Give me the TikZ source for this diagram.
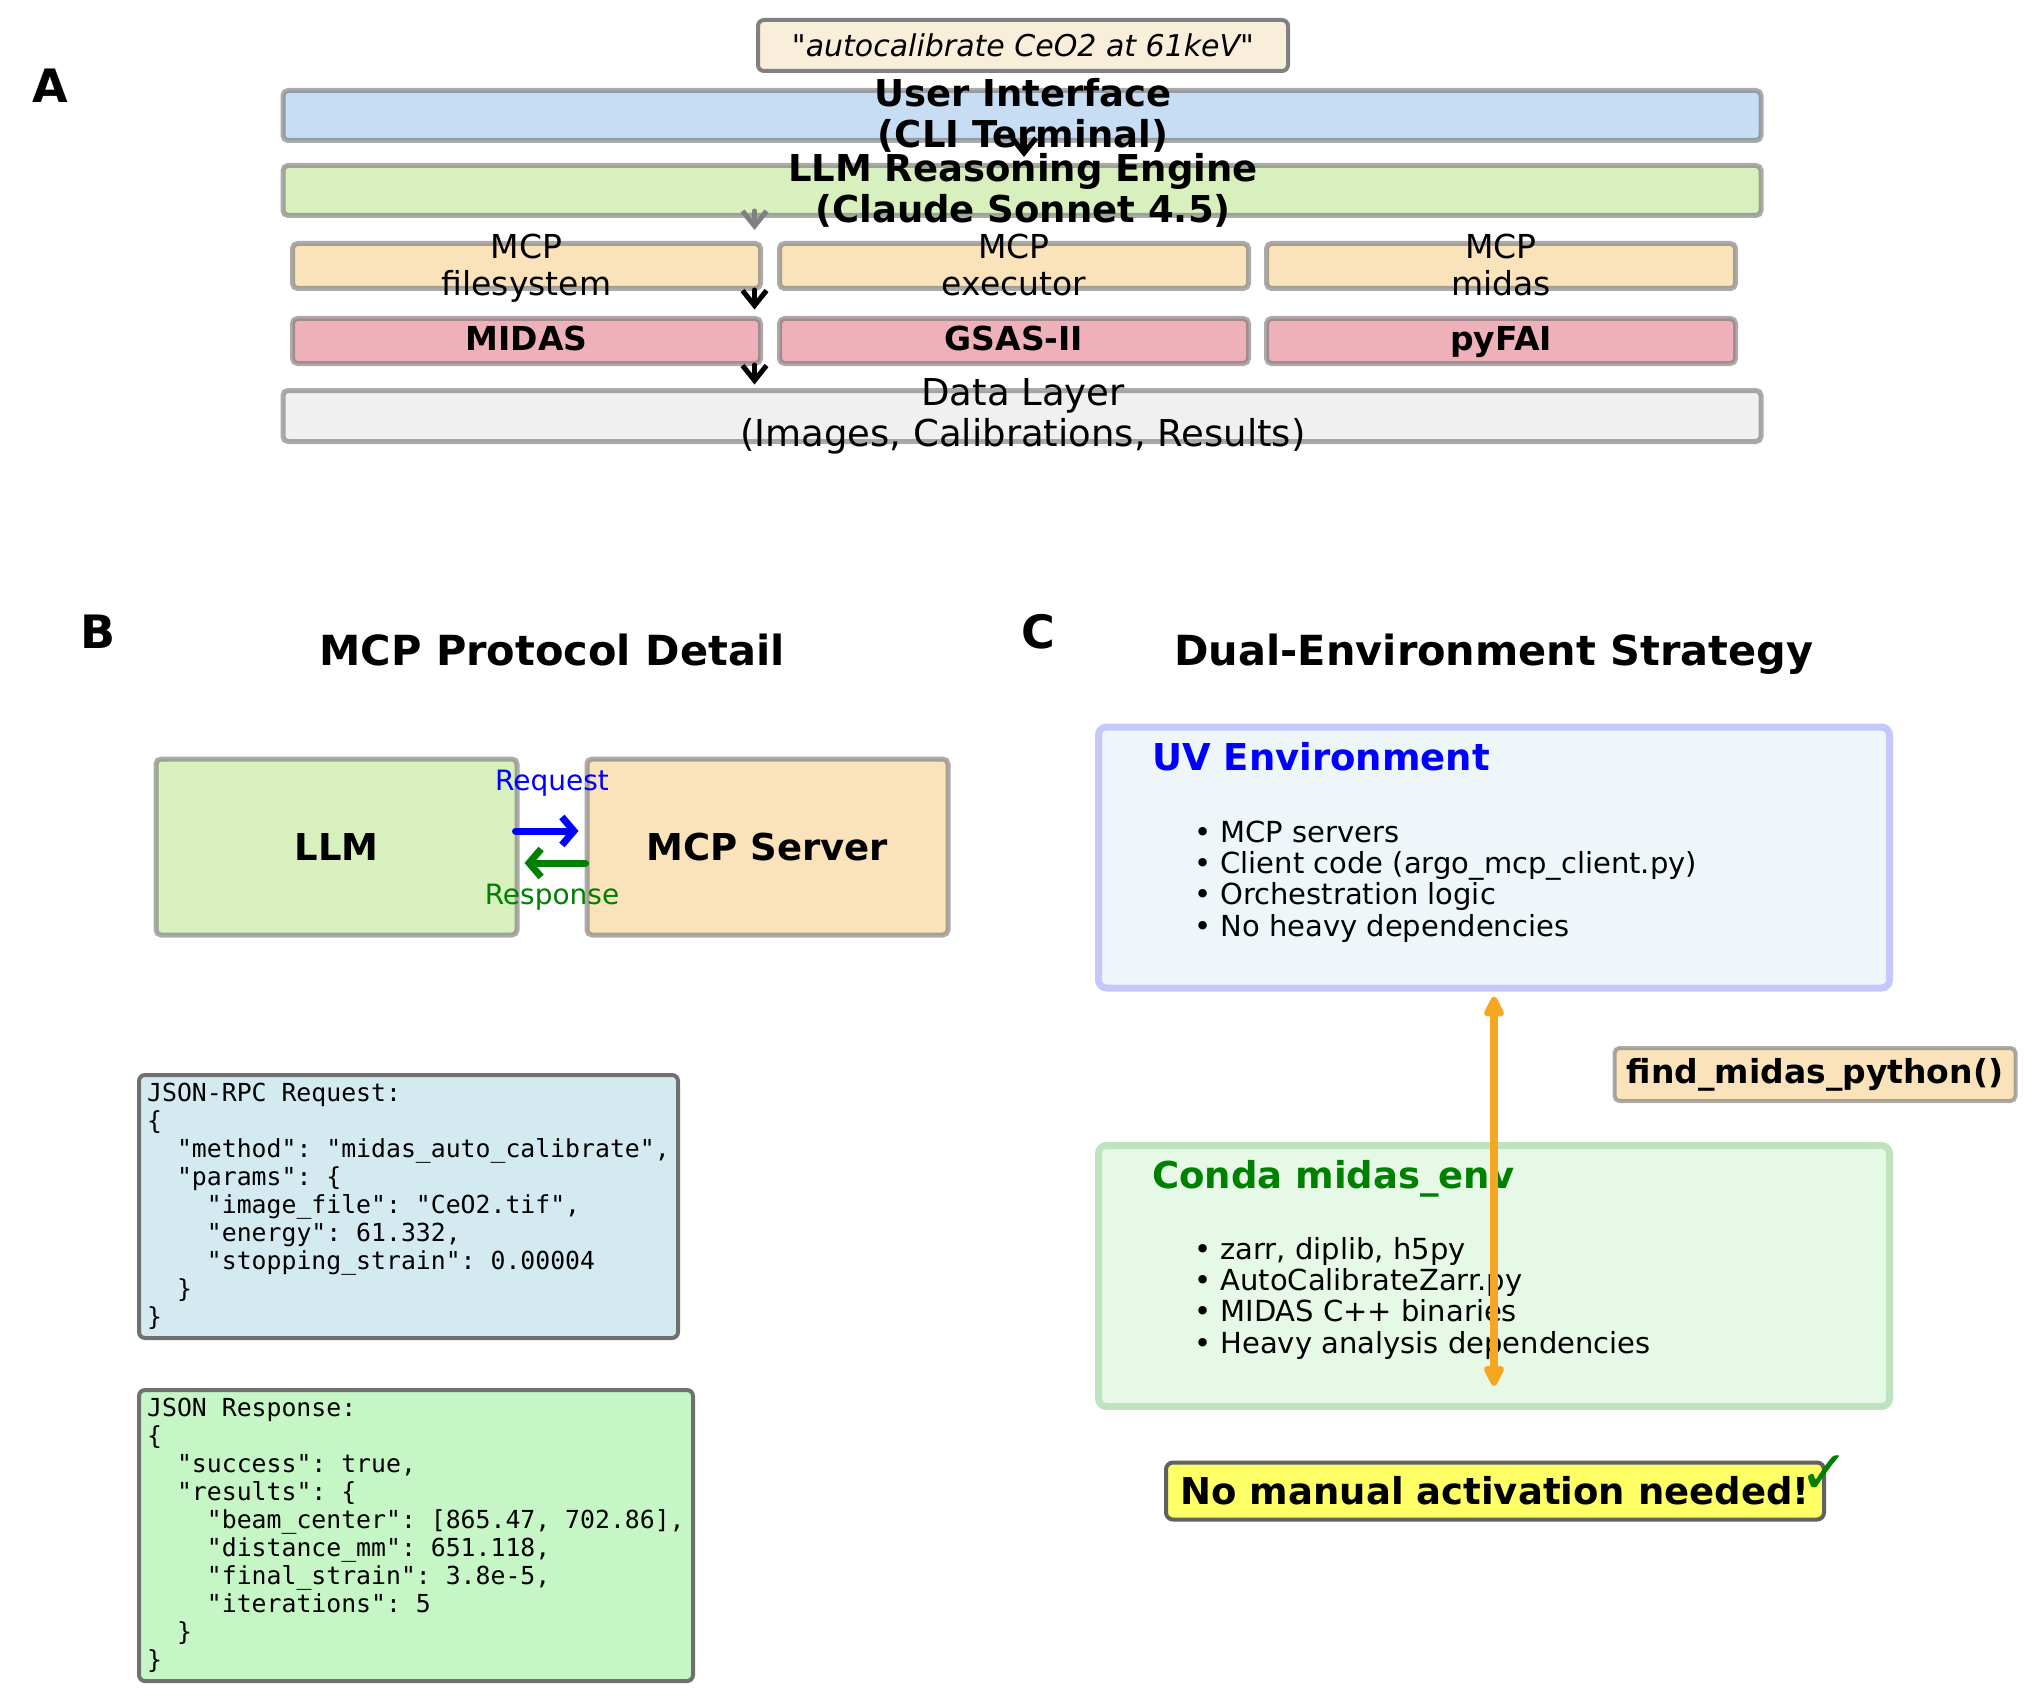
\documentclass[tikz,border=0pt]{standalone}
\usepackage{fontspec}
\setmainfont{DejaVu Sans}
\setmonofont{DejaVu Sans Mono}
\usetikzlibrary{arrows.meta}

\definecolor{uiblue}{HTML}{C7DDF4}
\definecolor{llmgreen}{HTML}{D8EFBE}
\definecolor{mcporange}{HTML}{FAE3BB}
\definecolor{toolpink}{HTML}{EFB1B9}
\definecolor{datagray}{HTML}{F0F0F0}
\definecolor{quotefill}{HTML}{F8EEDA}
\definecolor{reqfill}{HTML}{D4EAF1}
\definecolor{respfill}{HTML}{C6F6C6}
\definecolor{uvfill}{HTML}{EEF6FA}
\definecolor{uvedge}{HTML}{C6C8FC}
\definecolor{condafill}{HTML}{E6F8E6}
\definecolor{condaedge}{HTML}{BFE3BF}
\definecolor{hintyellow}{HTML}{FFFF66}
\definecolor{bridgeorange}{HTML}{F5A623}
\definecolor{okgreen}{HTML}{008000}

\newcommand{\fsz}[2]{\fontsize{#1pt}{#2pt}\selectfont}

\tikzset{
  paneltag/.style={font=\fsz{46}{50}\bfseries},
  paneltitle/.style={font=\fsz{41.5}{46}\bfseries, anchor=base},
  layerbox/.style={draw=black!55, draw opacity=0.6, line width=5pt, rounded corners=5pt, inner sep=0pt},
  layertext/.style={font=\fsz{37}{41}\bfseries, align=center, anchor=base},
  servertext/.style={font=\fsz{33}{36.5}, align=center, anchor=base},
  tooltext/.style={font=\fsz{33}{36}\bfseries, anchor=base},
  flowarrow/.style={-{Straight Barb[length=15pt,width=24pt,line width=5pt]}, line width=5pt, line cap=round, line join=round},
  msgarrow/.style={-{Straight Barb[length=12pt,width=28pt]}, line width=7pt, line cap=round, line join=round},
  jsonbox/.style={draw=black!56, line width=4pt, rounded corners=6pt, inner sep=0pt},
  jsontext/.style={font=\fsz{24.8}{28}\ttfamily, align=left, anchor=base west, inner sep=0pt},
  envbox/.style={line width=7pt, rounded corners=8pt, minimum width=791pt, minimum height=261pt, inner sep=0pt},
  envtitle/.style={font=\fsz{37}{40}\bfseries, anchor=base west, inner sep=0pt},
  envlist/.style={font=\fsz{29}{31.3}, align=left, anchor=base west, inner sep=0pt},
  bridge/.style={{Triangle[length=24pt,width=22pt,round]}-{Triangle[length=24pt,width=22pt,round]}, line width=8pt, bridgeorange}
}

\begin{document}
\begin{tikzpicture}[x=1pt,y=-1pt]
\useasboundingbox (0,0) rectangle (2035,1704);

% A: layered architecture
\node[paneltag] (tagA) at (50,86) {A};
\node[draw=black!50, line width=4pt, rounded corners=6pt, fill=quotefill, minimum width=530pt, minimum height=51pt, inner sep=0pt,
      font=\fsz{30}{34}\itshape] (query) at (1023,45.5) {\textquotedbl autocalibrate CeO2 at 61keV\textquotedbl};

\node[layerbox, fill=uiblue, minimum width=1478pt, minimum height=50pt] (ui) at (1022,115.5) {};
\node[layerbox, fill=llmgreen, minimum width=1478pt, minimum height=50pt] (llm) at (1022,190.5) {};
\node[layerbox, fill=mcporange, minimum width=468pt, minimum height=45pt] (fs) at (526.5,266) {};
\node[layerbox, fill=mcporange, minimum width=469pt, minimum height=45pt] (exec) at (1014,266) {};
\node[layerbox, fill=mcporange, minimum width=469pt, minimum height=45pt] (mid) at (1501,266) {};
\node[layerbox, fill=toolpink, minimum width=468pt, minimum height=45pt] (midas) at (526.5,341) {};
\node[layerbox, fill=toolpink, minimum width=469pt, minimum height=45pt] (gsas) at (1014,341) {};
\node[layerbox, fill=toolpink, minimum width=469pt, minimum height=45pt] (pyfai) at (1501,341) {};
\node[layerbox, fill=datagray, minimum width=1478pt, minimum height=51pt] (data) at (1022,416) {};

% multi-line labels sit on their last baseline
\node[layertext] at (1023,147.5) {User Interface\\(CLI Terminal)};
\node[layertext] at (1023,223) {LLM Reasoning Engine\\(Claude Sonnet 4.5)};
\node[servertext] at (526.5,295.5) {MCP\\filesystem};
\node[servertext] at (1014,295.5) {MCP\\executor};
\node[servertext] at (1501,295.5) {MCP\\midas};
\node[tooltext] at (526.5,351) {MIDAS};
\node[tooltext] at (1014,351) {GSAS-II};
\node[tooltext] at (1501,351) {pyFAI};
\node[font=\fsz{37}{41}, align=center, anchor=base] at (1023,446) {Data Layer\\(Images, Calibrations, Results)};

\draw[flowarrow] ([xshift=2pt,yshift=6pt]ui.south) -- ([xshift=2pt,yshift=-14pt]ui.south);
\draw[flowarrow, black!50] ([xshift=-8.5pt,yshift=30pt]fs.north east) -- ([xshift=-8.5pt,yshift=11pt]fs.north east);
\draw[flowarrow] ([xshift=-8.5pt,yshift=1pt]fs.south east) -- ([xshift=-8.5pt,yshift=-18.5pt]fs.south east);
\draw[flowarrow] ([xshift=-8.5pt,yshift=1pt]midas.south east) -- ([xshift=-8.5pt,yshift=-18.5pt]midas.south east);

% B: protocol
\node[paneltag] (tagB) at (98,632) {B};
\node[paneltitle] (titleB) at (552,665) {MCP Protocol Detail};
\node[layerbox, fill=llmgreen, minimum width=361pt, minimum height=176pt, font=\fsz{37}{40}\bfseries] (llmbox) at (336.5,847) {LLM};
\node[layerbox, fill=mcporange, minimum width=361pt, minimum height=176pt, font=\fsz{37}{40}\bfseries] (server) at (767.5,847) {MCP Server};
\draw[msgarrow, blue] ([xshift=-4pt,yshift=16pt]llmbox.east) -- ([xshift=-6pt,yshift=16pt]server.west);
\draw[msgarrow, okgreen] ([xshift=1pt,yshift=-16pt]server.west) -- ([xshift=5pt,yshift=-16pt]llmbox.east);
\node[font=\fsz{28}{30}, text=blue, anchor=base] at (552,790) {Request};
\node[font=\fsz{28}{30}, text=okgreen, anchor=base] at (552,904) {Response};

\node[jsonbox, fill=reqfill, minimum width=539pt, minimum height=263pt] (req) at (408.5,1206.5) {};
\node[jsontext] at (147,1325) {JSON-RPC Request:\\
\{\\
~~"method": "midas\_auto\_calibrate",\\
~~"params": \{\\
~~~~"image\_file": "CeO2.tif",\\
~~~~"energy": 61.332,\\
~~~~"stopping\_strain": 0.00004\\
~~\}\\
\}};

\node[jsonbox, fill=respfill, minimum width=554pt, minimum height=291pt] (resp) at (416,1535.5) {};
\node[jsontext] at (147,1668) {JSON Response:\\
\{\\
~~"success": true,\\
~~"results": \{\\
~~~~"beam\_center": [865.47, 702.86],\\
~~~~"distance\_mm": 651.118,\\
~~~~"final\_strain": 3.8e-5,\\
~~~~"iterations": 5\\
~~\}\\
\}};

% C: environments
\node[paneltag] (tagC) at (1038,632) {C};
\node[paneltitle] (titleC) at (1494,665) {Dual-Environment Strategy};
\node[envbox, draw=uvedge, fill=uvfill] (uv) at (1494,857.5) {};
\node[envtitle, text=blue] at (1152,770) {UV Environment};
\node[envlist] at (1194,936) {• MCP servers\\• Client code (argo\_mcp\_client.py)\\• Orchestration logic\\• No heavy dependencies};

\node[envbox, draw=condaedge, fill=condafill] (conda) at (1494,1276) {};
\node[envtitle, text=okgreen] at (1152,1188) {Conda midas\_env};
\node[envlist] at (1194,1353) {• zarr, diplib, h5py\\• AutoCalibrateZarr.py\\• MIDAS C++ binaries\\• Heavy analysis dependencies};

\draw[bridge] ([yshift=-5pt]uv.south) -- ([yshift=24pt]conda.south);
\node[layerbox, fill=mcporange, minimum width=401pt, minimum height=53pt, line width=4pt, font=\fsz{33}{36}\bfseries] (finder) at (1815,1074.5) {find\_midas\_python()};

\node[draw=black!62, line width=4pt, rounded corners=7pt, fill=hintyellow, minimum width=658pt, minimum height=57pt, inner sep=0pt,
      font=\fsz{37}{40}\bfseries] (note) at (1495,1491) {No manual activation needed!};
\node[text=okgreen, font=\fsz{60}{60}, inner sep=0pt] (tick) at (1825,1475) {✓};
\end{tikzpicture}
\end{document}
